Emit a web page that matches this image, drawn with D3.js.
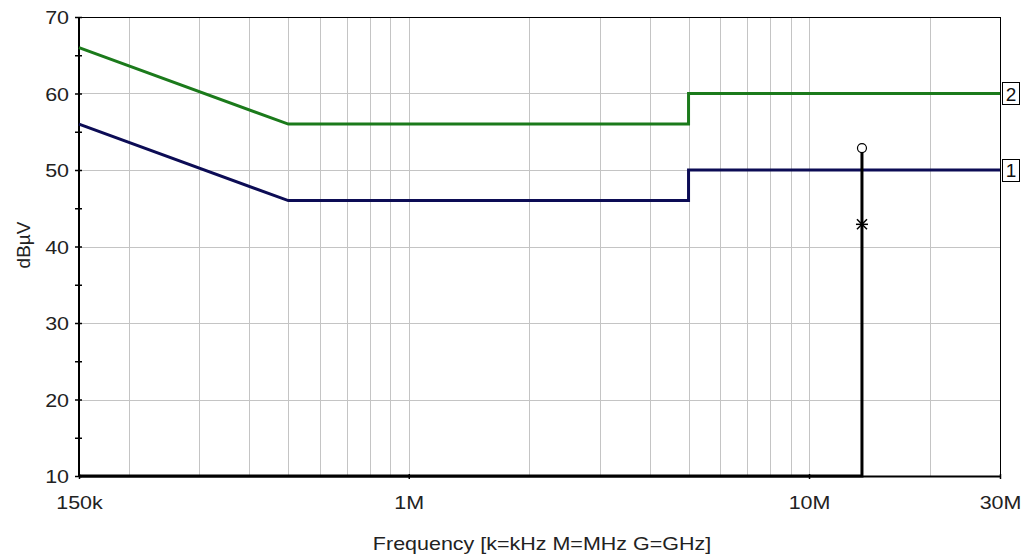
<!DOCTYPE html>
<html><head><meta charset="utf-8">
<script src="https://cdn.jsdelivr.net/npm/d3@7"></script>
<style>body{margin:0;background:#fff}svg{display:block;font-family:"Liberation Sans",Arial,sans-serif}</style>
</head><body><svg id="c" width="1022" height="557"></svg>
<script>
const xTickValues = [150e3, 1e6, 10e6, 30e6];
const xTickLabels = ["150k", "1M", "10M", "30M"];
const yTickValues = [10, 20, 30, 40, 50, 60, 70];
// Limit line 2 (quasi-peak), limit line 1 (average)
const limit2Freq = [150e3, 500e3, 5e6, 5e6, 30e6];
const limit2Vals = [66, 56, 56, 60, 60];
const limit1Freq = [150e3, 500e3, 5e6, 5e6, 30e6];
const limit1Vals = [56, 46, 46, 50, 50];
// Measured trace
const traceFreq = [150e3, 13.56e6, 13.56e6];
const traceVals = [10, 10, 52.6];
const peakFreq = [13.56e6];
const peakVals = [52.6];
const avgFreq = [13.56e6];
const avgVals = [42.9];

const svg = d3.select("#c");
const L = 79, R = 1000, T = 17, B = 476;
const x = d3.scaleLog().domain([150e3, 30e6]).range([L, R]);
const y = d3.scaleLinear().domain([10, 70]).range([B, T]);
const FS = 19, STRETCH = 1.13;
function widen(sel) {
  sel.each(function () {
    const w = this.getComputedTextLength();
    d3.select(this).attr("textLength", w * STRETCH).attr("lengthAdjust", "spacingAndGlyphs");
  });
}

// grid
const gridX = [];
for (let d = 1e5; d <= 1e7; d *= 10) for (let m = 1; m <= 9; m++) { const v = d * m; if (v > 150e3 && v < 30e6) gridX.push(v); }
gridX.push(20e6);
svg.append("g").selectAll("line").data(gridX).join("line")
  .attr("x1", d => Math.round(x(d)) + 0.5).attr("x2", d => Math.round(x(d)) + 0.5)
  .attr("y1", T).attr("y2", B).attr("stroke", "#c4c4c4").attr("stroke-width", 1);
svg.append("g").selectAll("line").data([20, 30, 40, 50, 60]).join("line")
  .attr("x1", L).attr("x2", R).attr("y1", d => Math.round(y(d)) + 0.5).attr("y2", d => Math.round(y(d)) + 0.5)
  .attr("stroke", "#c4c4c4").attr("stroke-width", 1);

// frame
svg.append("rect").attr("x", L + 0.5).attr("y", T + 0.5).attr("width", R - L).attr("height", B - T)
  .attr("fill", "none").attr("stroke", "#000").attr("stroke-width", 1);
svg.append("line").attr("x1", L).attr("x2", L).attr("y1", T).attr("y2", B + 1).attr("stroke", "#000").attr("stroke-width", 2);
svg.append("line").attr("x1", L).attr("x2", R).attr("y1", B + 0.5).attr("y2", B + 0.5).attr("stroke", "#000").attr("stroke-width", 2);

// y axis
const yAxis = d3.axisLeft(y).tickValues(yTickValues).tickSize(4).tickSizeOuter(0).tickPadding(4).tickFormat(d3.format("d"));
const ya = svg.append("g").attr("transform", `translate(${L+3},0)`).call(yAxis);
ya.select(".domain").remove();
ya.selectAll(".tick line").attr("x2", -7).attr("stroke-width", 1.5);
ya.selectAll("text").attr("font-size", FS).attr("fill", "#222").attr("x", -13).attr("dy", "0.35em").call(widen);
const yMinor = d3.axisLeft(y).tickValues([15, 25, 35, 45, 55, 65]).tickSize(4).tickFormat("");
const ym = svg.append("g").attr("transform", `translate(${L+3},0)`).call(yMinor);
ym.select(".domain").remove();
ym.selectAll(".tick line").attr("x2", -7).attr("stroke-width", 1.5);

// x axis
const xAxis = d3.axisBottom(x).tickValues(xTickValues).tickSize(5).tickSizeOuter(0)
  .tickFormat((d, i) => xTickLabels[i]).tickPadding(17);
const xa = svg.append("g").attr("transform", `translate(0,${B-2})`).call(xAxis);
xa.select(".domain").remove();
xa.selectAll("text").attr("font-size", FS).attr("fill", "#222").attr("dy", "0.71em").call(widen);
xa.selectAll(".tick line").attr("stroke-width", 1.5);

// lines
const line = d3.line().x(d => x(d[0])).y(d => y(d[1])).curve(d3.curveLinear);
svg.append("path").datum(limit2Freq.map((f, i) => [f, limit2Vals[i]])).attr("d", line)
  .attr("fill", "none").attr("stroke", "#1b7a1b").attr("stroke-width", 3);
svg.append("path").datum(limit1Freq.map((f, i) => [f, limit1Vals[i]])).attr("d", line)
  .attr("fill", "none").attr("stroke", "#0c0c55").attr("stroke-width", 3);
svg.append("path").datum(traceFreq.map((f, i) => [f, traceVals[i]])).attr("d", line)
  .attr("fill", "none").attr("stroke", "#000").attr("stroke-width", 3);

// markers
svg.selectAll(".pk").data(peakFreq).join("circle").attr("cx", (d) => x(d)).attr("cy", (d, i) => y(peakVals[i]) - 2)
  .attr("r", 4.5).attr("fill", "#fff").attr("stroke", "#000").attr("stroke-width", 1.2);
avgFreq.forEach((f, i) => {
  const cx = x(f), cy = y(avgVals[i]);
  const g = svg.append("g").attr("transform", `translate(${cx},${cy})`).attr("stroke", "#000").attr("stroke-width", 1.5);
  g.append("line").attr("x1", -6).attr("x2", 6).attr("y1", 0).attr("y2", 0);
  g.append("line").attr("x1", -5).attr("x2", 5).attr("y1", -5).attr("y2", 5);
  g.append("line").attr("x1", -5).attr("x2", 5).attr("y1", 5).attr("y2", -5);
});

// line labels
const labels = [{t: "2", v: limit2Vals[limit2Vals.length - 1]}, {t: "1", v: limit1Vals[limit1Vals.length - 1]}];
labels.forEach(l => {
  const cy = y(l.v);
  svg.append("rect").attr("x", R + 2.5).attr("y", Math.round(cy) - 10.5).attr("width", 17).attr("height", 22)
    .attr("fill", "#fff").attr("stroke", "#000").attr("stroke-width", 1);
  svg.append("text").attr("x", R + 11).attr("y", cy + 7).attr("text-anchor", "middle")
    .attr("font-size", FS).attr("fill", "#111").text(l.t);
});

// titles
svg.append("text").attr("x", 542).attr("y", 550).attr("text-anchor", "middle").attr("font-size", FS).attr("fill", "#222")
  .text("Frequency [k=kHz M=MHz G=GHz]").call(widen);
svg.append("text").attr("transform", "translate(30,245) rotate(-90)").attr("text-anchor", "middle")
  .attr("font-size", FS).attr("fill", "#222").text("dBµV");
</script></body></html>
